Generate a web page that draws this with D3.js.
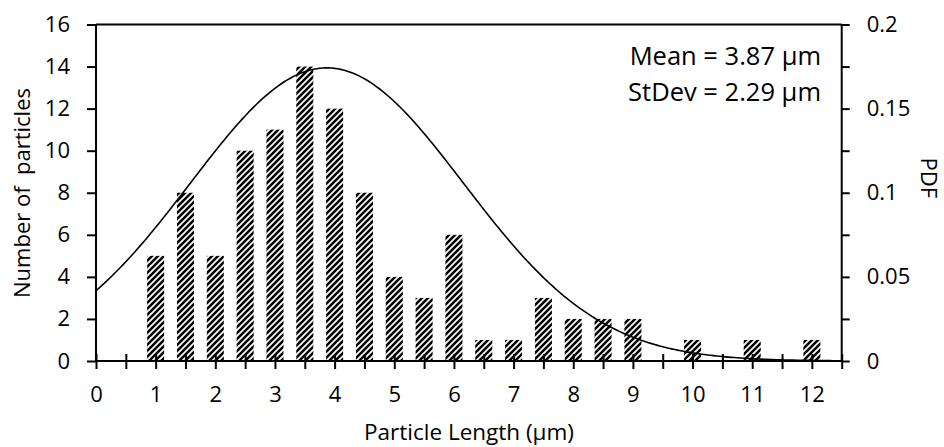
<!DOCTYPE html>
<html>
<head>
<meta charset="utf-8">
<script src="https://cdn.jsdelivr.net/npm/d3@7"></script>
<style>
  html, body { margin: 0; padding: 0; background: #fff; }
  svg { display: block; font-family: "Open Sans", "Noto Sans", sans-serif; }
</style>
</head>
<body>
<svg id="chart" width="944" height="447"></svg>
<script>
// Histogram of particle lengths (bins every 0.5 µm) with a fitted normal PDF
const binCenters = [1, 1.5, 2, 2.5, 3, 3.5, 4, 4.5, 5, 5.5, 6, 6.5, 7, 7.5, 8, 8.5, 9, 9.5, 10, 10.5, 11, 11.5, 12];
const counts     = [5, 8, 5, 10, 11, 14, 12, 8, 4, 3, 6, 1, 1, 3, 2, 2, 2, 0, 1, 0, 1, 0, 1];
const xTickLabels = [0, 1, 2, 3, 4, 5, 6, 7, 8, 9, 10, 11, 12];
const leftTicks  = [0, 2, 4, 6, 8, 10, 12, 14, 16];
const rightTickLabels = [0, 0.05, 0.1, 0.15, 0.2];
const fitMean = 3.87;
const fitStDev = 2.29;

const svg = d3.select("#chart");
const plotL = 96, plotR = 841.7, plotT = 24.5, plotB = 361;

const x  = d3.scaleLinear().domain([0, 12.5]).range([plotL, plotR]);
const yL = d3.scaleLinear().domain([0, 16]).range([plotB, plotT]);
const yR = d3.scaleLinear().domain([0, 0.2]).range([plotB, plotT]);

// diagonal hatch fill for the bars
const hp = 6;
const defs = svg.append("defs");
const pat = defs.append("pattern")
  .attr("id", "hatch")
  .attr("patternUnits", "userSpaceOnUse")
  .attr("width", hp).attr("height", hp);
pat.append("rect").attr("width", hp).attr("height", hp).attr("fill", "#fff");
pat.append("path")
  .attr("d", `M-1,1 L1,-1 M0,${hp} L${hp},0 M${hp - 1},${hp + 1} L${hp + 1},${hp - 1}`)
  .attr("stroke", "#000").attr("stroke-width", 2.5);

// bars
const barW = 17;
svg.append("g").selectAll("rect")
  .data(binCenters.map((c, i) => ({ c, v: counts[i] })).filter(d => d.v > 0))
  .join("rect")
  .attr("x", d => x(d.c) - barW / 2)
  .attr("y", d => yL(d.v))
  .attr("width", barW)
  .attr("height", d => yL(0) - yL(d.v))
  .attr("fill", "url(#hatch)");

// normal probability density from the stated mean and standard deviation
const pdf = v => Math.exp(-((v - fitMean) ** 2) / (2 * fitStDev ** 2)) / (fitStDev * Math.sqrt(2 * Math.PI));
const curveX = d3.range(0, 12.5001, 0.05);
svg.append("path")
  .datum(curveX)
  .attr("fill", "none")
  .attr("stroke", "#000")
  .attr("stroke-width", 1.6)
  .attr("d", d3.line().x(v => x(v)).y(v => yR(pdf(v))));

// top border of the plot area
svg.append("line")
  .attr("x1", plotL).attr("x2", plotR).attr("y1", plotT).attr("y2", plotT)
  .attr("stroke", "#000").attr("stroke-width", 2);

// left axis
const gL = svg.append("g").attr("transform", `translate(${plotL},0)`)
  .call(d3.axisLeft(yL).tickValues(leftTicks).tickSize(9).tickPadding(17).tickFormat(d3.format("d")));

// right axis: minor ticks every 0.025, labels every 0.05
const gR = svg.append("g").attr("transform", `translate(${plotR},0)`)
  .call(d3.axisRight(yR).tickValues(d3.range(0, 0.2001, 0.025)).tickSize(8).tickPadding(17)
    .tickFormat(d => rightTickLabels.some(t => Math.abs(t - d) < 1e-9) ? d3.format("~g")(+d.toFixed(3)) : ""));

// bottom axis: ticks every 0.5 crossing the axis line, labels at integers
const gB = svg.append("g").attr("transform", `translate(0,${plotB})`)
  .call(d3.axisBottom(x).tickValues(d3.range(0, 12.5001, 0.5)).tickSize(8).tickPadding(17)
    .tickFormat(d => xTickLabels.includes(d) ? d : ""));
gB.selectAll(".tick line").attr("y1", -7);

[gL, gR, gB].forEach(g => {
  g.select(".domain").attr("stroke", "#000").attr("stroke-width", 2);
  g.selectAll(".tick line").attr("stroke", "#000").attr("stroke-width", 2);
  g.selectAll(".tick text").attr("fill", "#000").style("font-size", "22px")
    .style("font-family", '"Open Sans", sans-serif');
});
gL.select(".domain").attr("d", `M0,${plotT}V${plotB}`);
gR.select(".domain").attr("d", `M0,${plotT}V${plotB}`);
gB.select(".domain").attr("d", `M${plotL},0H${plotR}`);
gB.selectAll(".tick text").attr("dy", "0.71em").attr("y", 25);

// axis titles
svg.append("text")
  .attr("transform", `translate(21,193) rotate(-90)`)
  .attr("text-anchor", "middle").attr("dominant-baseline", "central")
  .style("font-size", "22px").style("white-space", "pre")
  .text("Number of  particles");

svg.append("text")
  .attr("transform", `translate(930,${(plotT + plotB) / 2 - 15}) rotate(90)`)
  .attr("text-anchor", "middle").attr("dominant-baseline", "central")
  .style("font-size", "22px").text("PDF");

svg.append("text")
  .attr("x", 469).attr("y", 440)
  .attr("text-anchor", "middle")
  .style("font-size", "22.5px").text("Particle Length (µm)");

// fit statistics
const stats = svg.append("g").style("font-size", "25.5px").attr("text-anchor", "end");
stats.append("text").attr("x", 821).attr("y", 65).text(`Mean = ${fitMean.toFixed(2)} µm`);
stats.append("text").attr("x", 821).attr("y", 101).text(`StDev = ${fitStDev.toFixed(2)} µm`);
</script>
</body>
</html>
